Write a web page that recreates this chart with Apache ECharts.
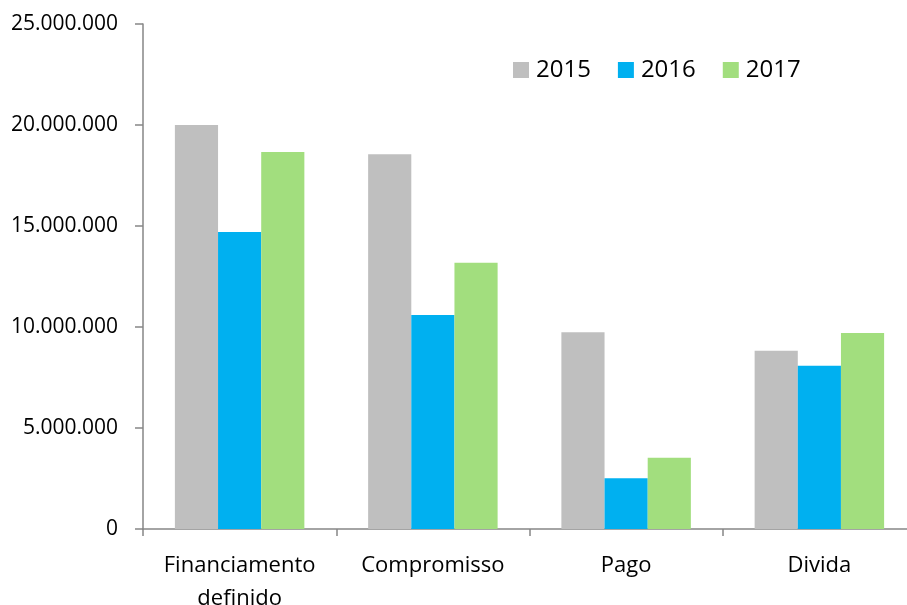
<!DOCTYPE html>
<html>
<head>
<meta charset="utf-8">
<script src="https://cdn.jsdelivr.net/npm/echarts@6/dist/echarts.min.js"></script>
<style>
  html, body { margin: 0; padding: 0; background: #fff; }
  #chart { width: 907px; height: 605px; }
</style>
</head>
<body>
<div id="chart"></div>
<script>
// categorias e valores
var categories = ['Financiamento\ndefinido', 'Compromisso', 'Pago', 'Divida']
var years = ['2015', '2016', '2017']
var values2015 = [20000000, 18550000, 9740000, 8830000]
var values2016 = [14700000, 10590000, 2510000, 8080000]
var values2017 = [18660000, 13180000, 3530000, 9700000]
var colors = ['#BFBFBF', '#00B0F0', '#A2DE7E']

var chart = echarts.init(document.getElementById('chart'))

// formato 20.000.000
function fmt (v) {
  return String(v).replace(/\B(?=(\d{3})+(?!\d))/g, '.')
}

var font = 'Open Sans, Liberation Sans, sans-serif'
var seriesData = [values2015, values2016, values2017]
var series = years.map(function (y, i) {
  return {
    name: y,
    type: 'bar',
    data: seriesData[i],
    barGap: 0,
    barCategoryGap: '33%',
    itemStyle: { color: colors[i] }
  }
})

chart.setOption({
  animation: false,
  textStyle: { fontFamily: font },
  legend: {
    data: years,
    left: 513,
    top: 58,
    padding: 0,
    itemWidth: 16,
    itemHeight: 16,
    itemGap: 27,
    icon: 'rect',
    textStyle: { fontSize: 24, color: '#000', fontFamily: font, padding: [0, 0, 0, 2] }
  },
  grid: {
    left: 143,
    right: -9,
    top: 24,
    bottom: 76,
    outerBoundsMode: 'none',
    containLabel: false
  },
  xAxis: {
    type: 'category',
    data: categories,
    axisLine: { lineStyle: { color: '#868686', width: 1.5 } },
    axisTick: { show: true, length: 7, alignWithLabel: false, lineStyle: { color: '#868686', width: 1.5 } },
    axisLabel: { color: '#000', fontSize: 22, margin: 20, lineHeight: 33, interval: 0 }
  },
  yAxis: {
    type: 'value',
    min: 0,
    max: 25000000,
    interval: 5000000,
    splitLine: { show: false },
    axisLine: { show: true, lineStyle: { color: '#868686', width: 1.5 } },
    axisTick: { show: true, length: 8, lineStyle: { color: '#868686', width: 1.5 } },
    axisLabel: { color: '#000', fontSize: 21, margin: 25, formatter: fmt }
  },
  series: series
})
</script>
</body>
</html>
